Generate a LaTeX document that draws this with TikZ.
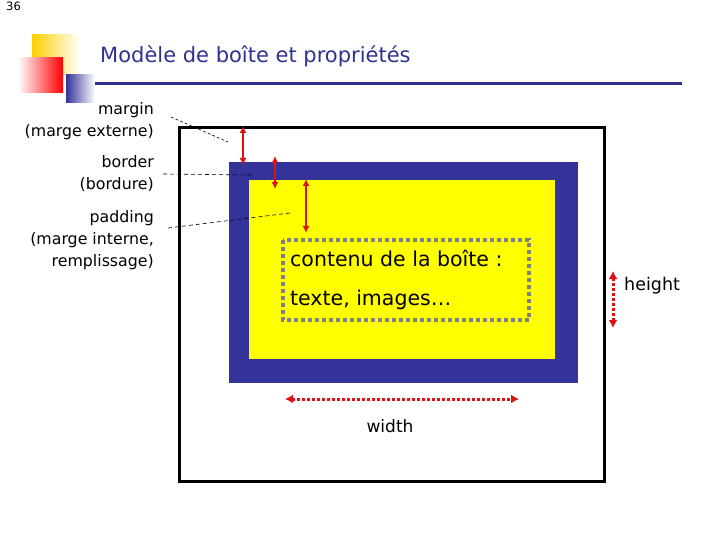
\documentclass[tikz,border=0pt]{standalone}
\usepackage{fontspec}
\setmainfont{DejaVu Sans}
\usetikzlibrary{arrows.meta,positioning,calc}
\definecolor{titleblue}{RGB}{46,49,146}
\definecolor{borderblue}{RGB}{51,51,153}
\definecolor{boxyellow}{RGB}{255,255,0}
\definecolor{arrowred}{RGB}{221,17,17}
\begin{document}
\begin{tikzpicture}[x=1pt,y=-1pt,
  label node/.style={align=right,anchor=east,font=\fontsize{15.8}{22}\selectfont,inner sep=0pt},
  leader/.style={black,line width=0.6pt,dash pattern=on 4pt off 3pt},
  gap arrow/.style={arrowred,line width=2pt,{Latex[length=7pt,width=7pt]}-{Latex[length=7pt,width=7pt]}},
  size arrow/.style={arrowred,line width=3pt,dash pattern=on 3pt off 2pt,{Latex[length=8pt,width=9pt]}-{Latex[length=8pt,width=9pt]}},
  content text/.style={anchor=west,font=\fontsize{20.5}{24}\selectfont,inner sep=0pt}]
\useasboundingbox (0,0) rectangle (720,540);
% logo
\shade[left color=orange!20!yellow!90!red,right color=white] (32,35) rectangle (80,76);
\shade[left color=white,right color=red] (18,58) rectangle (63,93);
\shade[left color=borderblue,right color=white] (66,75) rectangle (95,103);
\node[anchor=north west,font=\fontsize{11.5}{12}\selectfont,inner sep=0pt] (pagenum) at (6,2) {36};
\node[anchor=west,text=titleblue,font=\fontsize{21}{24}\selectfont,inner sep=0pt] (title) at (100,56) {Modèle de boîte et propriétés};
\draw[titleblue,line width=3pt] (95,84) -- (682,84);
% boxes
\fill[borderblue] (229,162) rectangle (578,383);
\fill[boxyellow] (249,180) rectangle (555,359);
\draw[black!50,line width=4pt,dash pattern=on 4pt off 3pt] (283,240) rectangle (529,320);
\draw[black,line width=3pt] (179,128) rectangle (604,481);
\node[content text] (contenu) at (290,258) {contenu de la boîte :};
\node[content text] (texte) at (290,300) {texte, images\ldots};
% labels
\node[label node] (margin) at (154,121) {margin\\(marge externe)};
\node[label node] (border) at (154,174) {border\\(bordure)};
\node[label node] (padding) at (154,240) {padding\\(marge interne,\\remplissage)};
\coordinate (mtip) at (228,142);
\coordinate (btip) at (252,175);
\coordinate (ptip) at (290,213);
\draw[leader,dash pattern=on 3pt off 2pt] (margin.east) ++(17,-4) -- (mtip);
\draw[leader] (border.east) ++(9,0) -- (btip);
\draw[leader] (padding.east) ++(14,-12) -- (ptip);
% gap arrows
\coordinate (m1) at (243,126);
\coordinate (m2) at (243,165);
\coordinate (b1) at (275,156);
\coordinate (b2) at (275,189);
\coordinate (p1) at (306,179);
\coordinate (p2) at (306,233);
\draw[gap arrow] (m1) -- (m2);
\draw[gap arrow] (b1) -- (b2);
\draw[gap arrow] (p1) -- (p2);
% size arrows
\coordinate (h1) at (613,271);
\coordinate (h2) at (613,328);
\coordinate (w1) at (285,399);
\coordinate (w2) at (519,399);
\draw[size arrow] (h1) -- (h2);
\draw[size arrow] (w1) -- (w2);
\node[anchor=west,font=\fontsize{17.5}{20}\selectfont,inner sep=0pt] (height) at (624,286) {height};
\node[font=\fontsize{17}{20}\selectfont,inner sep=0pt] (width) at (390,426) {width};
\end{tikzpicture}
\end{document}
